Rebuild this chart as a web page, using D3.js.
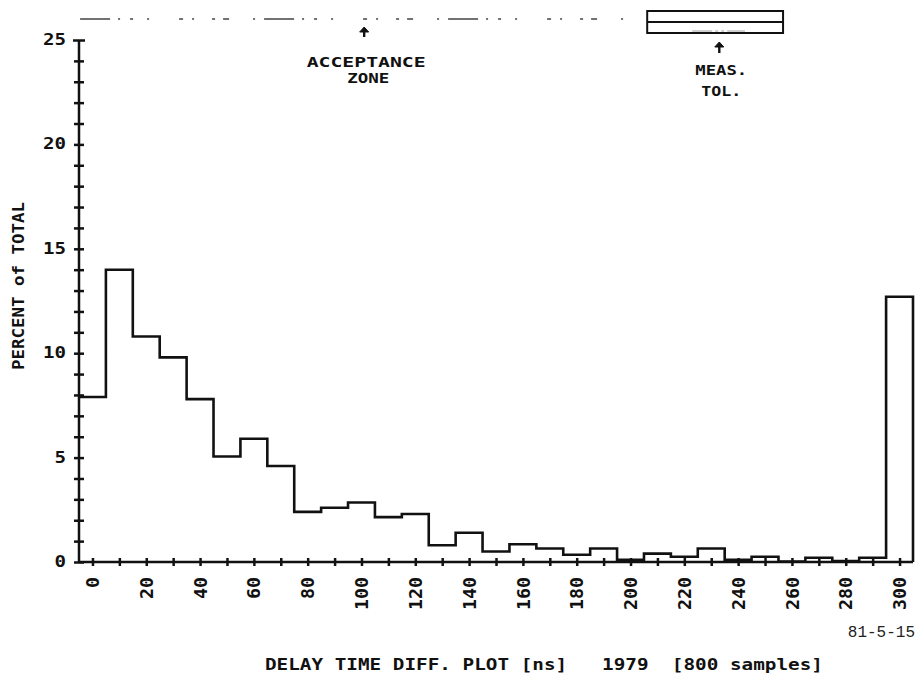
<!DOCTYPE html>
<html>
<head>
<meta charset="utf-8">
<script src="https://cdn.jsdelivr.net/npm/d3@7"></script>
<style>
  html, body { margin: 0; padding: 0; background: #fff; }
  #chart { width: 919px; height: 675px; }
</style>
</head>
<body>
<div id="chart"></div>
<script>
// bin centres (ns) and percent of total per bin
const binCenters = [0, 10, 20, 30, 40, 50, 60, 70, 80, 90, 100, 110, 120, 130, 140, 150,
  160, 170, 180, 190, 200, 210, 220, 230, 240, 250, 260, 270, 280, 290, 300];
const percent = [7.9, 14.0, 10.8, 9.8, 7.8, 5.05, 5.9, 4.6, 2.4, 2.6, 2.85, 2.15, 2.3, 0.8, 1.4, 0.5,
  0.85, 0.65, 0.35, 0.65, 0.1, 0.4, 0.25, 0.65, 0.1, 0.25, 0.02, 0.2, 0.05, 0.2, 12.7];
const xTickLabels = [0, 20, 40, 60, 80, 100, 120, 140, 160, 180, 200, 220, 240, 260, 280, 300];
const yTickLabels = [0, 5, 10, 15, 20, 25];
const yMinorTicks = d3.range(0, 26);

const acceptanceZone = [-4.6, 198.7];
const acceptanceArrow = 101;
const measTol = [206.2, 256.7];
const measArrow = 233;

const binWidth = 10;
const width = 919, height = 675;
const mono = "'DejaVu Sans Mono', monospace";

const svg = d3.select('#chart').append('svg')
  .attr('width', width)
  .attr('height', height)
  .attr('viewBox', `0 0 ${width} ${height}`);

const x = d3.scaleLinear().domain([-5, 305]).range([79, 913]);
const y = d3.scaleLinear().domain([0, 25]).range([562, 40]);

// histogram outline
const pts = [];
binCenters.forEach((c, i) => {
  pts.push([c - binWidth / 2, percent[i]]);
  pts.push([c + binWidth / 2, percent[i]]);
});
pts.push([binCenters[binCenters.length - 1] + binWidth / 2, 0]);

const line = d3.line().x(d => x(d[0])).y(d => y(d[1]));
svg.append('path')
  .attr('d', line(pts))
  .attr('fill', 'none')
  .attr('stroke', '#111')
  .attr('stroke-width', 2.6)
  .attr('stroke-linejoin', 'miter');

// y axis
svg.append('line')
  .attr('x1', x(-5)).attr('x2', x(-5))
  .attr('y1', y(0)).attr('y2', y(25))
  .attr('stroke', '#111').attr('stroke-width', 2.5);

const yAxis = svg.append('g')
  .attr('transform', `translate(${x(-5)},0)`)
  .call(d3.axisLeft(y).tickValues(yMinorTicks).tickSize(5)
    .tickFormat(d => yTickLabels.includes(d) ? d : ''));
yAxis.select('.domain').remove();
yAxis.selectAll('.tick line')
  .attr('x1', d => d === 25 ? -6 : -5)
  .attr('x2', d => d === 25 ? 6 : 5)
  .attr('stroke', '#111')
  .attr('stroke-width', 2.5);
yAxis.selectAll('.tick text')
  .attr('x', -13)
  .attr('dy', '0.3em')
  .style('font-family', mono)
  .style('font-weight', 'bold')
  .style('font-size', '15px')
  .attr('fill', '#111')
  .each(function (d) {
    if (yTickLabels.includes(d)) {
      d3.select(this).attr('textLength', String(d).length * 11.5).attr('lengthAdjust', 'spacingAndGlyphs');
    }
  });

// x axis
svg.append('line')
  .attr('x1', x(-5)).attr('x2', x(305))
  .attr('y1', y(0)).attr('y2', y(0))
  .attr('stroke', '#111').attr('stroke-width', 2.5);

const xAxis = svg.append('g')
  .attr('transform', `translate(0,${y(0)})`)
  .call(d3.axisBottom(x).tickValues(binCenters).tickSize(4)
    .tickFormat(d => xTickLabels.includes(d) ? d : ''));
xAxis.select('.domain').remove();
xAxis.selectAll('.tick line')
  .attr('y1', -4).attr('y2', 4)
  .attr('stroke', '#111')
  .attr('stroke-width', 2.5);
xAxis.selectAll('.tick text')
  .attr('transform', 'rotate(-90)')
  .attr('text-anchor', 'end')
  .attr('x', -15)
  .attr('y', 0)
  .attr('dy', '0.36em')
  .style('font-family', mono)
  .style('font-weight', 'bold')
  .style('font-size', '17px')
  .attr('fill', '#111')
  .each(function (d) {
    if (xTickLabels.includes(d)) {
      d3.select(this).attr('textLength', String(d).length * 11).attr('lengthAdjust', 'spacingAndGlyphs');
    }
  });

// axis titles
svg.append('text')
  .attr('transform', 'translate(24,286) rotate(-90)')
  .attr('text-anchor', 'middle')
  .attr('textLength', 168)
  .attr('lengthAdjust', 'spacingAndGlyphs')
  .style('font-family', mono)
  .style('font-weight', 'bold')
  .style('font-size', '15px')
  .attr('fill', '#111')
  .text('PERCENT of TOTAL');

svg.append('text')
  .attr('x', 544)
  .attr('y', 670)
  .attr('text-anchor', 'middle')
  .attr('textLength', 558)
  .attr('lengthAdjust', 'spacingAndGlyphs')
  .style('white-space', 'pre')
  .style('font-family', mono)
  .style('font-weight', 'bold')
  .style('font-size', '16.5px')
  .attr('fill', '#111')
  .text('DELAY TIME DIFF. PLOT [ns]   1979  [800 samples]');

svg.append('text')
  .attr('x', 915)
  .attr('y', 637)
  .attr('text-anchor', 'end')
  .style('font-family', "'Liberation Mono', monospace")
  .style('font-size', '16px')
  .attr('fill', '#222')
  .text('81-5-15');

// acceptance zone marker (faint, broken print line)
svg.append('line')
  .attr('x1', x(acceptanceZone[0])).attr('x2', x(acceptanceZone[1]))
  .attr('y1', 19).attr('y2', 19)
  .attr('stroke', '#444')
  .attr('stroke-width', 1.3)
  .attr('stroke-dasharray', '30 8 2 10 3 14 2 30 4 9 2 18 3 8 6 24 2 9');

// measurement tolerance box
svg.append('rect')
  .attr('x', x(measTol[0])).attr('y', 11)
  .attr('width', x(measTol[1]) - x(measTol[0])).attr('height', 22)
  .attr('fill', 'none')
  .attr('stroke', '#111')
  .attr('stroke-width', 2);
svg.append('line')
  .attr('x1', x(measTol[0])).attr('x2', x(measTol[1]))
  .attr('y1', 22).attr('y2', 22)
  .attr('stroke', '#111').attr('stroke-width', 2.2);
svg.append('line')
  .attr('x1', x(measTol[0]) + 45).attr('x2', x(measTol[1]) - 38)
  .attr('y1', 31).attr('y2', 31)
  .attr('stroke', '#888').attr('stroke-width', 0.8)
  .attr('stroke-dasharray', '20 3 3 3 3 3');

function arrow(cx, top, bottom) {
  svg.append('line')
    .attr('x1', cx).attr('x2', cx)
    .attr('y1', top + 3).attr('y2', bottom)
    .attr('stroke', '#111').attr('stroke-width', 2.4);
  svg.append('path')
    .attr('d', `M${cx - 4.5},${top + 5}L${cx},${top}L${cx + 4.5},${top + 5}Z`)
    .attr('fill', '#111').attr('stroke', '#111').attr('stroke-width', 1);
}

function label(cx, baseline, txt, len) {
  svg.append('text')
    .attr('x', cx).attr('y', baseline)
    .attr('text-anchor', 'middle')
    .attr('textLength', len)
    .attr('lengthAdjust', 'spacingAndGlyphs')
    .style('font-family', mono)
    .style('font-weight', 'bold')
    .style('font-size', '14px')
    .attr('fill', '#111')
    .text(txt);
}

arrow(x(acceptanceArrow), 27, 37);
label(x(acceptanceArrow) + 2, 67, 'ACCEPTANCE', 119);
label(x(acceptanceArrow) + 4, 83, 'ZONE', 42);

arrow(x(measArrow), 42, 53);
label(x(measArrow) + 2, 75, 'MEAS.', 52);
label(x(measArrow) + 2, 96, 'TOL.', 40);
</script>
</body>
</html>
